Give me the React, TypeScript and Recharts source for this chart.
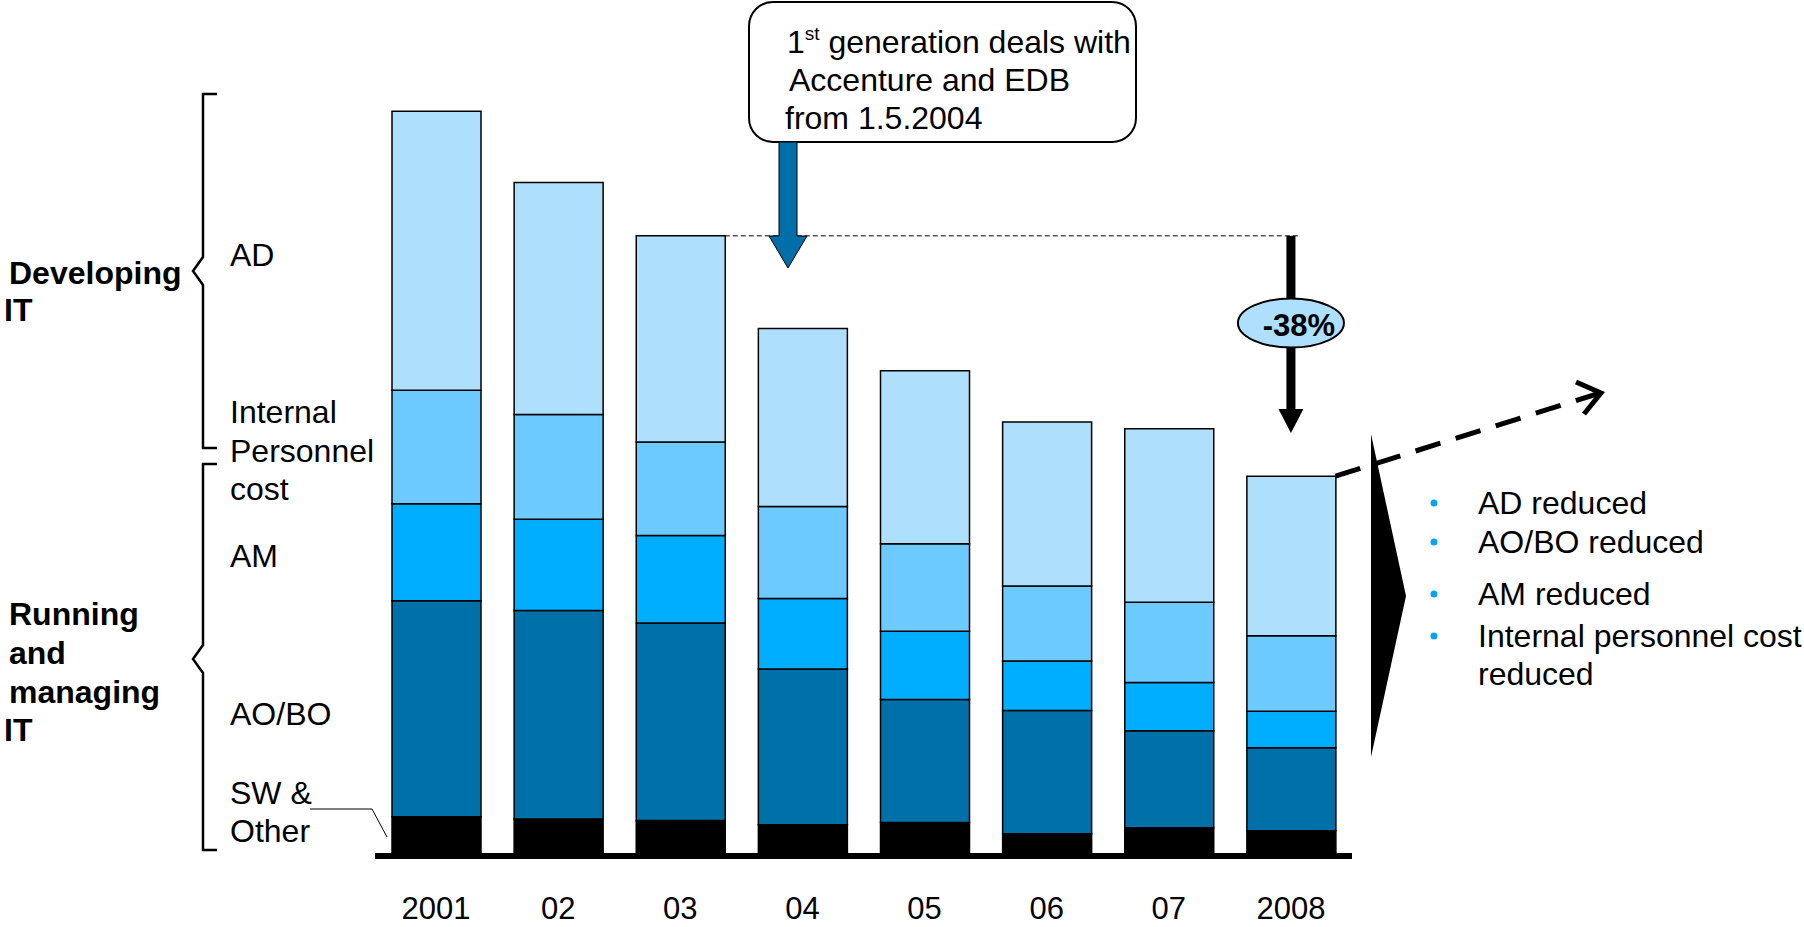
import { BarChart, Bar, XAxis, YAxis } from 'recharts'

// index values, 2001 total = 100
const categories = ['2001', '02', '03', '04', '05', '06', '07', '2008']
const swOther = [5.3, 5.0, 4.8, 4.2, 4.5, 3.0, 3.8, 3.4]
const aoBo = [29.1, 28.1, 26.6, 21.0, 16.6, 16.6, 13.1, 11.2]
const am = [13.1, 12.3, 11.8, 9.5, 9.2, 6.7, 6.5, 4.9]
const internalCost = [15.3, 14.1, 12.6, 12.4, 11.8, 10.1, 10.8, 10.2]
const ad = [37.6, 31.3, 27.8, 24.0, 23.3, 22.1, 23.4, 21.5]
const bulletItems = ['AD reduced', 'AO/BO reduced', 'AM reduced', 'Internal personnel cost']
const dropLabel = '-38%'

const data = categories.map((year, i) => ({
  year,
  sw: swOther[i],
  aobo: aoBo[i],
  am: am[i],
  ipc: internalCost[i],
  ad: ad[i],
}))

const total = (i: number) => swOther[i] + aoBo[i] + am[i] + internalCost[i] + ad[i]

const W = 1804
const H = 927
const PLOT_LEFT = 375
const PLOT_RIGHT = 1352
const PLOT_TOP = 40
const PLOT_BOTTOM = 856
const Y_MAX = 110
const BAR_W = 89
const FONT = 'Arial, "Liberation Sans", sans-serif'

const band = (PLOT_RIGHT - PLOT_LEFT) / categories.length
const yPix = (v: number) => PLOT_BOTTOM - (v / Y_MAX) * (PLOT_BOTTOM - PLOT_TOP)
const xCenter = (i: number) => PLOT_LEFT + (i + 0.5) * band
const barRight = (i: number) => xCenter(i) + BAR_W / 2

function Overlay() {
  const i03 = categories.indexOf('03')
  const iLast = categories.length - 1
  const yRef = yPix(total(i03))
  const arrowX = xCenter(iLast)
  const startX = barRight(iLast)
  const startY = yPix(total(iLast))
  const tipX = 1601
  const tipY = 393
  const txt = { fontFamily: FONT, fontSize: 32, fill: '#000' }
  const bold = { ...txt, fontWeight: 700 }
  return (
    <svg width={W} height={H} style={{ position: 'absolute', left: 0, top: 0, pointerEvents: 'none' }}>
      {/* braces */}
      <path d="M217 94 H203 V257 L193 271 L203 285 V448 H217" fill="none" stroke="#000" strokeWidth={2.5} />
      <path d="M217 464 H203 V645 L193 659 L203 673 V850 H217" fill="none" stroke="#000" strokeWidth={2.5} />

      <text x={9} y={284} style={bold}>Developing</text>
      <text x={4} y={321} style={bold}>IT</text>
      <text x={9} y={625} style={bold}>Running</text>
      <text x={9} y={664} style={bold}>and</text>
      <text x={9} y={703} style={bold}>managing</text>
      <text x={4} y={741} style={bold}>IT</text>

      <text x={230} y={266} style={txt}>AD</text>
      <text x={230} y={423} style={txt}>Internal</text>
      <text x={230} y={462} style={txt}>Personnel</text>
      <text x={230} y={500} style={txt}>cost</text>
      <text x={230} y={567} style={txt}>AM</text>
      <text x={230} y={725} style={txt}>AO/BO</text>
      <text x={230} y={804} style={txt}>SW &amp;</text>
      <text x={230} y={842} style={txt}>Other</text>
      <polyline points="310,809 372,809 387,837" fill="none" stroke="#000" strokeWidth={1} />

      {/* reference level of 2003 */}
      <line x1={barRight(i03)} y1={yRef} x2={arrowX + 8} y2={yRef} stroke="#000" strokeWidth={1} strokeDasharray="5 3" />

      {/* callout */}
      <rect x={749} y={2} width={387} height={140} rx={24} fill="#fff" stroke="#000" strokeWidth={2} />
      <text x={787} y={53} style={{ ...txt, fontSize: 32 }}>
        1<tspan dy={-13} fontSize={19}>st</tspan>
        <tspan dy={13}> generation deals with</tspan>
      </text>
      <text x={789} y={91} style={{ ...txt, fontSize: 32 }}>Accenture and EDB</text>
      <text x={785} y={129} style={{ ...txt, fontSize: 32 }}>from 1.5.2004</text>
      <polygon points="779,142 797,142 797,236 807,236 788,268 769,236 779,236" fill="#006ea8" stroke="#000" strokeWidth={1} />

      {/* -38% arrow */}
      <rect x={arrowX - 4.5} y={yRef} width={9} height={409 - yRef} fill="#000" />
      <polygon points={`${arrowX - 12.5},409 ${arrowX + 12.5},409 ${arrowX},433`} fill="#000" />
      <ellipse cx={arrowX} cy={323} rx={53} ry={24.5} fill="#aedffd" stroke="#000" strokeWidth={2} />
      <text x={arrowX + 8} y={336} textAnchor="middle" style={{ ...bold, fontSize: 31 }}>{dropLabel}</text>

      {/* dashed trend arrow */}
      <line x1={startX} y1={startY} x2={tipX - 4} y2={tipY + 1} stroke="#000" strokeWidth={5} strokeDasharray="26 16" />
      <polyline points={`1576,382 ${tipX},${tipY} 1584,414`} fill="none" stroke="#000" strokeWidth={5} strokeLinejoin="miter" />

      {/* chevron */}
      <polygon points="1371,434 1406,596 1371,757" fill="#000" />

      {bulletItems.map((t, i) => {
        const ys = [514, 553, 605, 647]
        return (
          <g key={t}>
            <circle cx={1434} cy={ys[i] - 11} r={3.5} fill="#0aa2f0" />
            <text x={1478} y={ys[i]} style={txt}>{t}</text>
          </g>
        )
      })}
      <text x={1478} y={685} style={txt}>reduced</text>
    </svg>
  )
}

export default function App() {
  return (
    <div style={{ position: 'absolute', left: 0, top: 0, width: W, height: H, background: '#fff' }}>
      <BarChart
        width={W}
        height={H}
        data={data}
        margin={{ top: PLOT_TOP, right: W - PLOT_RIGHT, bottom: 11, left: PLOT_LEFT }}
        barSize={BAR_W}
      >
        <XAxis
          dataKey="year"
          height={60}
          tickLine={false}
          axisLine={{ stroke: '#000', strokeWidth: 6 }}
          tickMargin={35}
          tick={{ fontSize: 31, fill: '#000', fontFamily: FONT }}
          interval={0}
        />
        <YAxis hide domain={[0, Y_MAX]} />
        <Bar dataKey="sw" stackId="a" fill="#000" stroke="#000" strokeWidth={1.5} isAnimationActive={false} />
        <Bar dataKey="aobo" stackId="a" fill="#0070a9" stroke="#000" strokeWidth={1.5} isAnimationActive={false} />
        <Bar dataKey="am" stackId="a" fill="#00aeff" stroke="#000" strokeWidth={1.5} isAnimationActive={false} />
        <Bar dataKey="ipc" stackId="a" fill="#6ccafe" stroke="#000" strokeWidth={1.5} isAnimationActive={false} />
        <Bar dataKey="ad" stackId="a" fill="#aee0fe" stroke="#000" strokeWidth={1.5} isAnimationActive={false} />
      </BarChart>
      <Overlay />
    </div>
  )
}
